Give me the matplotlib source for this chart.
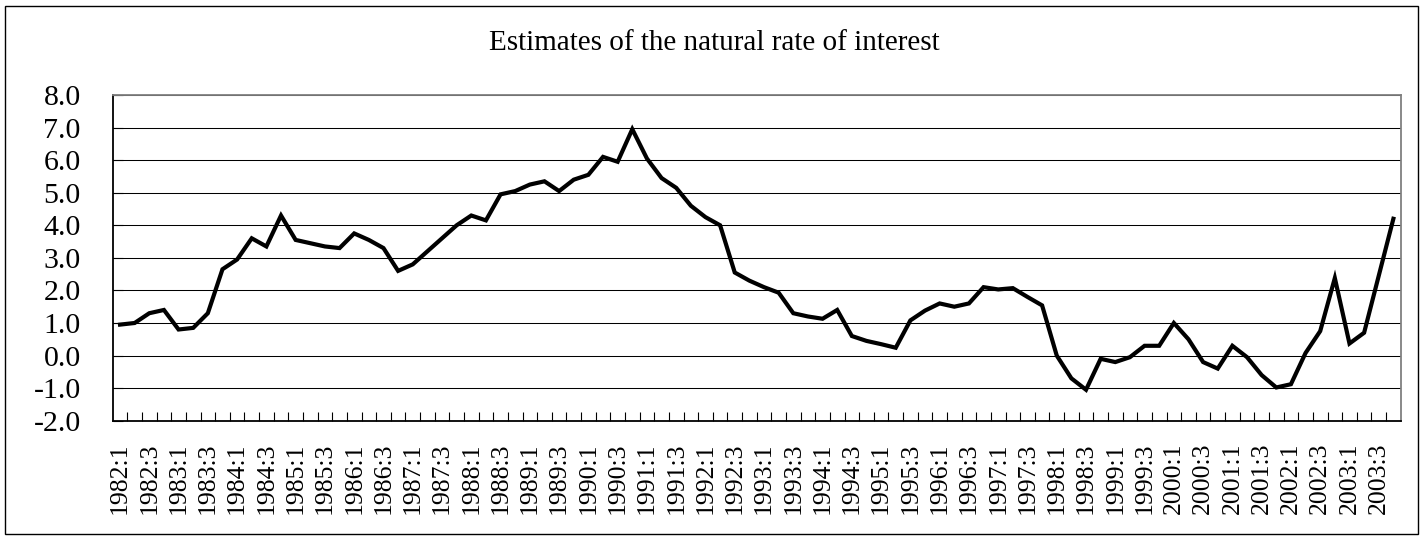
import matplotlib
matplotlib.use("Agg")
import matplotlib.pyplot as plt
from matplotlib.patches import Rectangle
import numpy as np

plt.rcParams['font.family'] = ['Liberation Serif', 'DejaVu Serif']

# quarterly estimates, 1982:1 - 2003:4
years = list(range(1982, 2004))
quarters = [f"{y}:{q}" for y in years for q in range(1, 5)]
rate = [0.95, 1.0, 1.3, 1.4, 0.8, 0.85, 1.3, 2.65, 2.95, 3.6,
        3.35, 4.3, 3.55, 3.45, 3.35, 3.3, 3.75, 3.55, 3.3, 2.6,
        2.8, 3.2, 3.6, 4.0, 4.3, 4.15, 4.95, 5.05, 5.25, 5.35,
        5.05, 5.4, 5.55, 6.1, 5.95, 6.95, 6.05, 5.45, 5.15, 4.6,
        4.25, 4.0, 2.55, 2.3, 2.1, 1.93, 1.3, 1.2, 1.13, 1.4,
        0.6, 0.45, 0.35, 0.24, 1.08, 1.38, 1.6, 1.5, 1.6, 2.1,
        2.03, 2.07, 1.8, 1.54, 0.0, -0.7, -1.05, -0.1, -0.2, -0.05,
        0.3, 0.3, 1.0, 0.5, -0.2, -0.4, 0.3, -0.05, -0.6, -0.98,
        -0.88, 0.08, 0.75, 2.38, 0.37, 0.7, 2.45, 4.2]
yticks = np.arange(-2, 9, 1)

W, H = 1427, 536
fig = plt.figure(figsize=(W / 100, H / 100), dpi=100)
ax = fig.add_axes([112.7 / W, 1 - 420.7 / H, (1400.7 - 112.7) / W, (420.7 - 95) / H])

x = np.arange(len(quarters))
ax.plot(x, rate, color='black', lw=3.0, solid_joinstyle='miter', zorder=3)

ax.set_xlim(-0.5, len(quarters) - 0.5)
ax.set_ylim(-2, 8)
ax.set_yticks(yticks)
ax.set_yticklabels([f"{v:.1f}" for v in yticks], fontsize=21.5)
ax.yaxis.grid(True, color='black', lw=0.75)
ax.set_axisbelow(True)

ax.set_xticks(x[::2])
ax.set_xticklabels(quarters[::2], rotation=90, fontsize=18.5)
ax.set_xticks(np.arange(0.5, len(quarters) - 1, 1), minor=True)
ax.tick_params(axis='x', which='major', length=0, pad=16)
ax.tick_params(axis='x', which='minor', direction='in', length=6.5, width=0.8)
ax.tick_params(axis='y', direction='in', length=7, width=0.8, pad=23)

for s in ['left', 'bottom']:
    ax.spines[s].set_color('black')
    ax.spines[s].set_linewidth(1.3)
for s in ['top', 'right']:
    ax.spines[s].set_color('#808080')
    ax.spines[s].set_linewidth(1.3)

fig.text(0.5007, 1 - 50 / H, "Estimates of the natural rate of interest",
         ha='center', va='baseline', fontsize=21)

# outer chart border
fig.patches.append(Rectangle((4.5 / W, 2 / H), (1418 - 4.5) / W, (530 - 2) / H,
                             transform=fig.transFigure, fill=False,
                             edgecolor='black', lw=1))

fig.savefig("out.png", dpi=100)
